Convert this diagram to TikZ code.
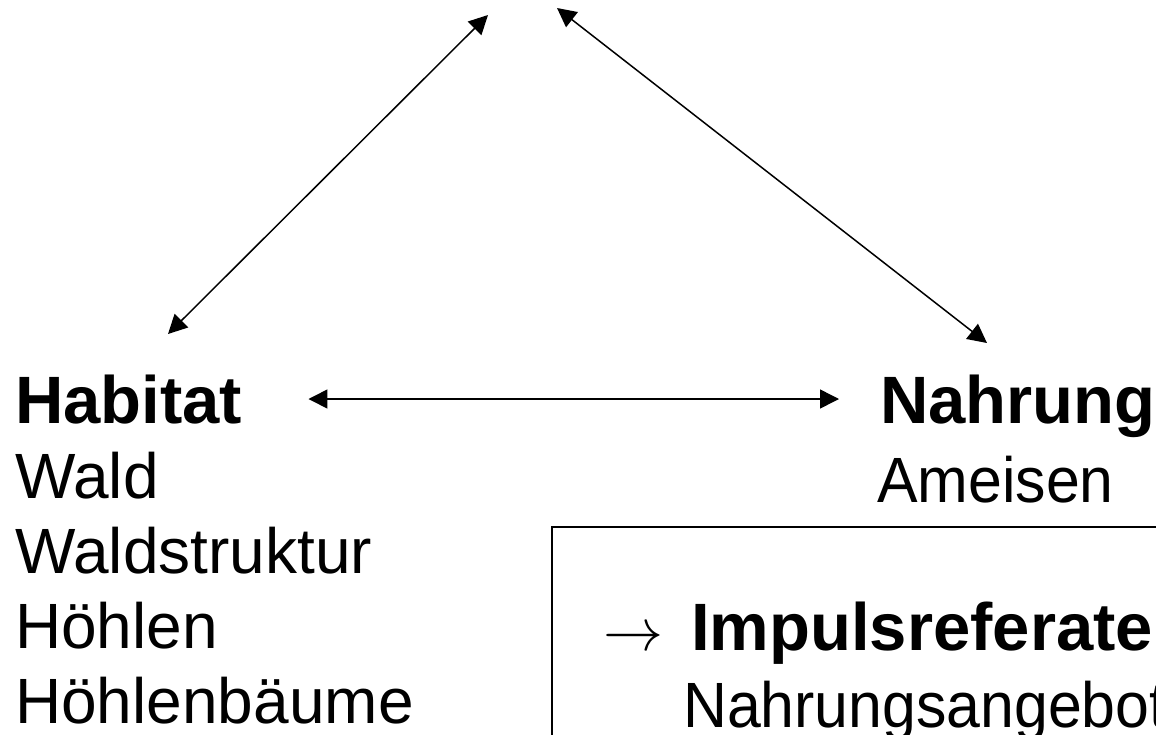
\documentclass[tikz,border=0pt]{standalone}
\usepackage{fontspec}
\setmainfont{Liberation Sans}
\usepackage{graphicx}
\usetikzlibrary{arrows.meta,positioning}
\newcommand{\schmal}[1]{\scalebox{0.95}[1]{#1}}
\newcommand{\zeiger}{\resizebox{60pt}{!}{$\rightarrow$}}
\tikzset{
eintrag/.style = {inner sep=0pt, anchor=base west, font=\fontsize{64}{75}\selectfont},% eintrag, normal
titel/.style = {eintrag, font=\fontsize{67}{75}\selectfont\bfseries},% titel, fett
doppelpfeil/.style = {{Triangle[length=19pt,width=19pt]}-{Triangle[length=19pt,width=19pt]}, line width=1.5pt},% pfeil in beide richtungen
rahmen/.style = {draw=black, line width=1.5pt}
}
\begin{document}
\begin{tikzpicture}[x=1pt,y=-1pt]
  \useasboundingbox (0,0) rectangle (1156,734);
  % linke spalte
  \node [titel] (habitat) at (15,423) {Habitat};
  \foreach \t [count=\i] in {Wald,Waldstruktur,Höhlen,Höhlenbäume}
    \node [eintrag] (hab-\i) at (15,423+75*\i) {\t};
  % rechte spalte
  \node [titel] (nahrung) at (880,423) {Nahrung};
  \node [eintrag] (ameisen) at (877,502) {\schmal{Ameisen}};
  % kasten
  \draw [rahmen] (552,527) rectangle (1200,800);
  \node [titel] (impuls) at (603,650) {\zeiger\hspace{28pt}Impulsreferate};
  \node [eintrag] (angebot) at (683,727) {\schmal{Nahrungsangebot}};
  % pfeile
  \coordinate (spitze-l) at (488,15);
  \coordinate (spitze-r) at (557,8);
  \coordinate (hab-oben) at (168,334);
  \coordinate (nah-oben) at (987,343);
  \draw [doppelpfeil] (hab-oben) -- (spitze-l);
  \draw [doppelpfeil] (nah-oben) -- (spitze-r);
  \draw [doppelpfeil, shorten <=66pt, shorten >=41pt] (habitat.east |- 0,399) -- (nahrung.west |- 0,399);
\end{tikzpicture}
\end{document}
